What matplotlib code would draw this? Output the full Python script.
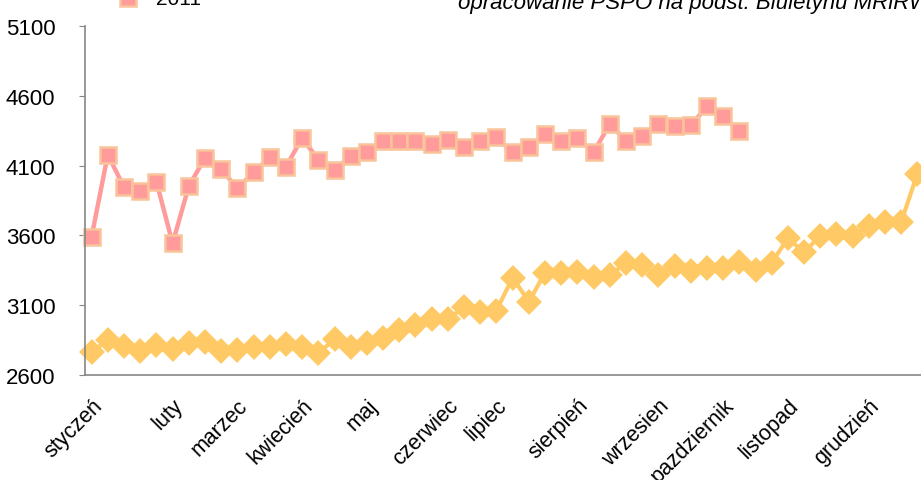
import matplotlib
matplotlib.use('Agg')
import matplotlib.pyplot as plt
from matplotlib.lines import Line2D
import numpy as np

plt.rcParams['font.family'] = ['Liberation Sans', 'DejaVu Sans']

# weekly prices, 2010 (yellow) and 2011 (pink)
ceny_2010 = [2765, 2850, 2809, 2774, 2814, 2786, 2830, 2834, 2774, 2779,
             2802, 2798, 2821, 2798, 2758, 2855, 2798, 2832, 2862, 2924,
             2958, 3003, 2998, 3088, 3053, 3062, 3298, 3125, 3332, 3329,
             3338, 3305, 3314, 3405, 3386, 3314, 3381, 3345, 3369, 3369,
             3410, 3355, 3405, 3580, 3478, 3598, 3612, 3595, 3665, 3693,
             3697, 4043]
ceny_2011 = [3591, 4178, 3945, 3921, 3986, 3543, 3952, 4155, 4076, 3936,
             4052, 4159, 4091, 4298, 4143, 4071, 4167, 4195, 4274, 4274,
             4274, 4255, 4286, 4231, 4279, 4302, 4195, 4231, 4326, 4279,
             4298, 4195, 4398, 4279, 4314, 4398, 4381, 4388, 4524, 4452,
             4350]
miesiace = ['styczeń', 'luty', 'marzec', 'kwiecień', 'maj', 'czerwiec',
            'lipiec', 'sierpień', 'wrzesien', 'pazdziernik', 'listopad', 'grudzień']
tydz_miesiaca = [0, 5, 9, 13, 17, 22, 25, 30, 35, 39, 43, 48]
y_ticks = [2600, 3100, 3600, 4100, 4600, 5100]

zolty = '#FFCA66'
rozowy = '#FF9B9B'
obrys = '#F9C49A'

fig = plt.figure(figsize=(9.21, 4.81), dpi=100)
ax = fig.add_axes([84.5 / 921, 1 - 376 / 481, 1 - 84.5 / 921, (376 - 27) / 481])

x10 = np.arange(len(ceny_2010))
x11 = np.arange(len(ceny_2011))
ax.plot(x10, ceny_2010, color=zolty, lw=3, marker='D', ms=10, mfc=zolty,
        mec=zolty, mew=3, solid_joinstyle='round', label='2010', clip_on=False)
ax.plot(x11, ceny_2011, color=rozowy, lw=3.2, marker='s', ms=11.5, mfc=rozowy,
        mec=obrys, mew=1.8, label='2011', clip_on=False)

ax.set_xlim(-0.44, 51.22)
ax.set_ylim(2600, 5100)
ax.set_yticks(y_ticks)
ax.set_yticklabels([str(v) for v in y_ticks], fontsize=16)
ax.set_xticks(tydz_miesiaca)
ax.set_xticklabels(miesiace, rotation=45, ha='right', va='top',
                   rotation_mode='anchor', fontsize=15.5)

for s in ['top', 'right']:
    ax.spines[s].set_visible(False)
for s in ['left', 'bottom']:
    ax.spines[s].set_color('#868686')
    ax.spines[s].set_linewidth(1.2)
ax.tick_params(axis='y', length=4, color='#868686', pad=17)
ax.tick_params(axis='x', length=0, pad=14)

# legend (cut off at the top of the image)
fig.add_artist(Line2D([127.5 / 921], [1 + 1 / 481], transform=fig.transFigure,
                      marker='s', ms=11, mfc=rozowy, mec=obrys, mew=1.8, ls='none'))
fig.text(156 / 921, 1 - 5 / 481, '2011', fontsize=15, va='baseline')

fig.text(458 / 921, 1 - 9 / 481, 'opracowanie PSPO na podst. Biuletynu MRiRW',
         fontsize=16, style='italic', va='baseline')

fig.savefig('out.png', dpi=100)
